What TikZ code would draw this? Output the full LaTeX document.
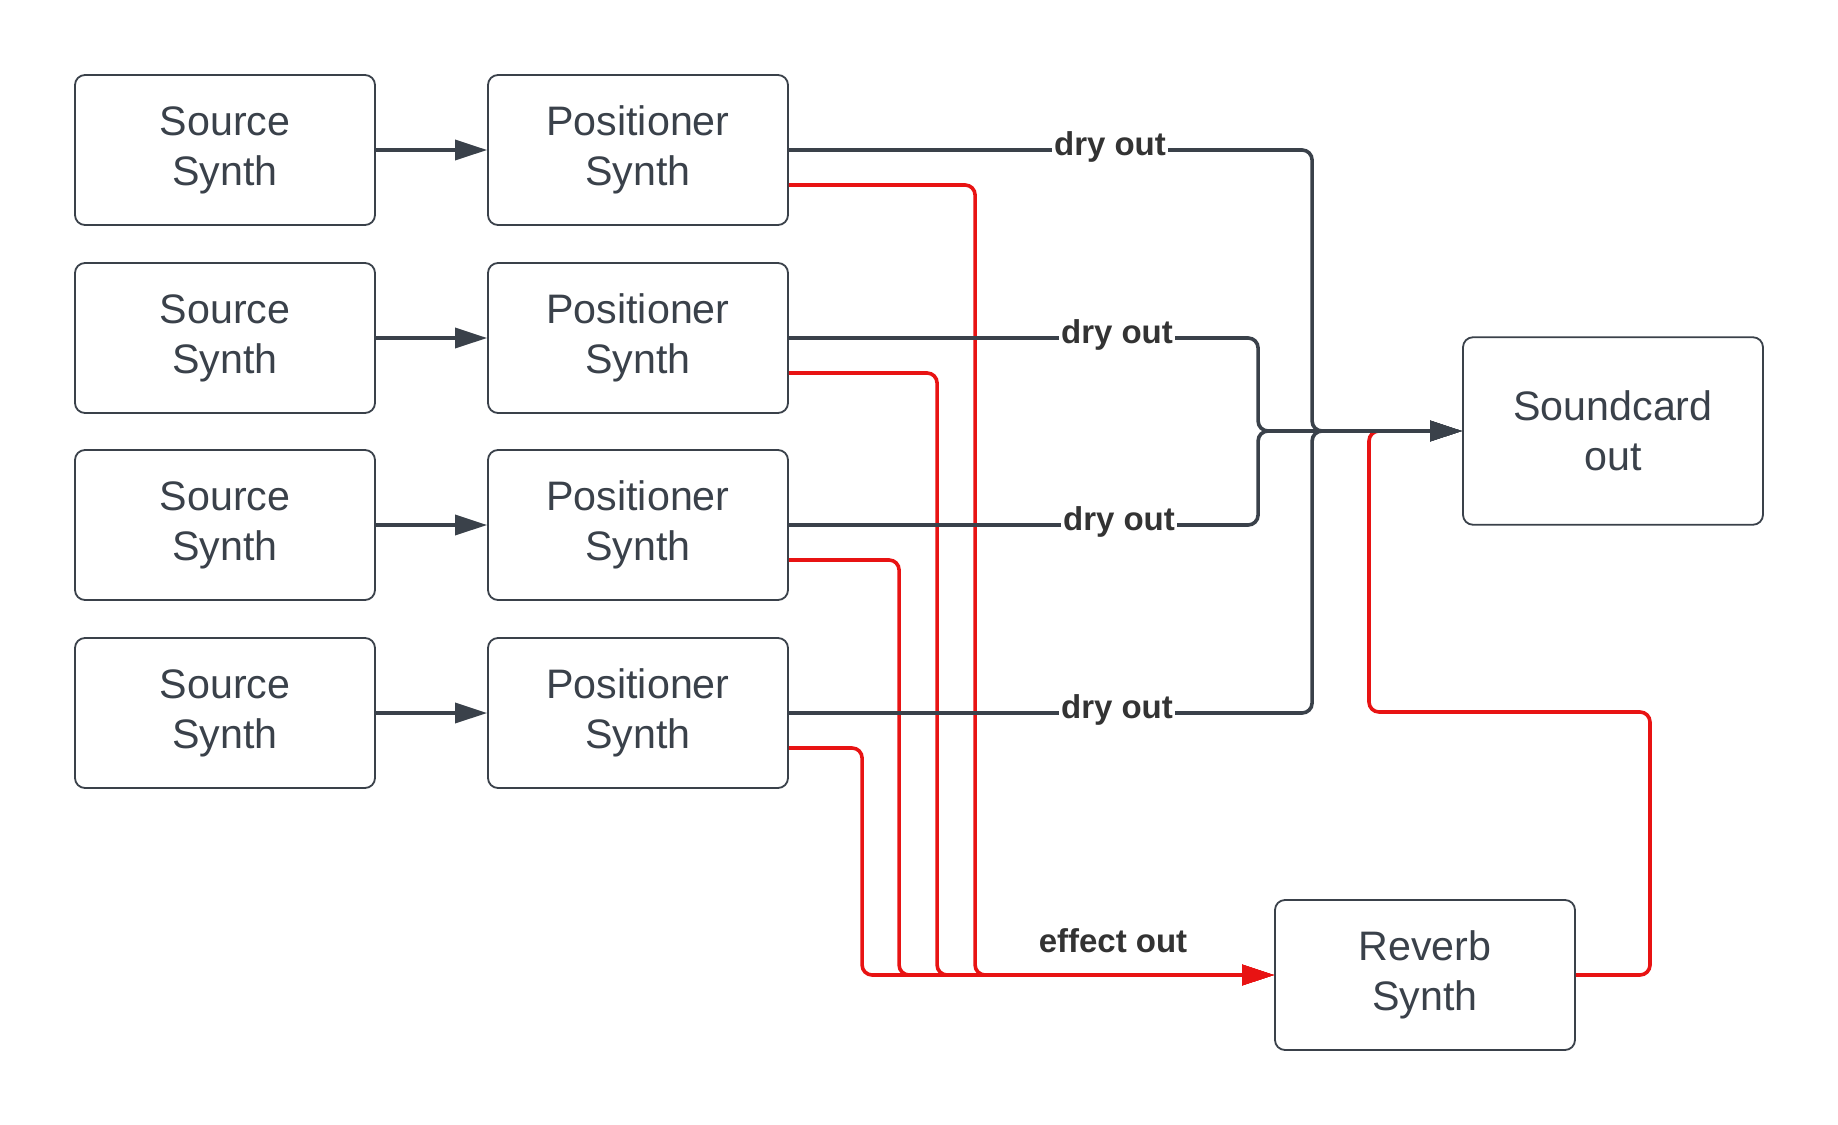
\documentclass[tikz,border=0pt]{standalone}
\usepackage{fontspec}
\setmainfont{Liberation Sans}
\usetikzlibrary{arrows.meta,calc}
\definecolor{ink}{HTML}{3A414A}
\definecolor{fx}{HTML}{E81313}
\definecolor{lab}{HTML}{333333}
\begin{document}
\begin{tikzpicture}[x=0.5pt,y=-0.5pt,
 box/.style={draw=ink, line width=0.9pt, rounded corners=5pt, minimum width=150pt, minimum height=75pt, align=center, text=ink, font=\fontsize{20.6}{25}\selectfont, inner sep=0pt},
 tall/.style={box, minimum height=93.75pt},
 tip/.style={-{Triangle[length=16pt,width=10pt]}},
 dry/.style={draw=ink, line width=1.8pt, rounded corners=5pt},
 wet/.style={draw=fx, line width=1.8pt, rounded corners=5pt},
 lbl/.style={fill=white, text=lab, font=\bfseries\fontsize{16.5}{20}\selectfont, inner sep=1pt}]
\fill[white] (0,0) rectangle (1838,1125);
\useasboundingbox (0,0) rectangle (1838,1125);

\node[box] (s1) at (225,150) {Source\\Synth};
\node[box] (s2) at (225,338) {Source\\Synth};
\node[box] (s3) at (225,525) {Source\\Synth};
\node[box] (s4) at (225,713) {Source\\Synth};
\node[box] (p1) at (638,150) {Positioner\\Synth};
\node[box] (p2) at (638,338) {Positioner\\Synth};
\node[box] (p3) at (638,525) {Positioner\\Synth};
\node[box] (p4) at (638,713) {Positioner\\Synth};
\node[tall] (sc) at (1613,431) {Soundcard\\out};
\node[box] (rv) at (1425,975) {Reverb\\Synth};

% effect sends
\draw[wet, shorten >=20pt] (rv.east) -| (1650,712) -| (1369,431) -- (sc.west);
\draw[wet,tip] ($(p4.east)+(0,35)$) -| ($(rv.west)+(-412,0)$) -- (rv.west);
\draw[wet,tip] ($(p3.east)+(0,35)$) -| ($(rv.west)+(-375,0)$) -- (rv.west);
\draw[wet,tip] ($(p2.east)+(0,35)$) -| ($(rv.west)+(-337,0)$) -- (rv.west);
\draw[wet,tip] ($(p1.east)+(0,35)$) -| ($(rv.west)+(-299,0)$) -- (rv.west);

% source to positioner
\draw[dry,tip] (s1) -- (p1);
\draw[dry,tip] (s2) -- (p2);
\draw[dry,tip] (s3) -- (p3);
\draw[dry,tip] (s4) -- (p4);

% dry outs
\draw[dry,tip] (p1.east) -| ($(sc.west)+(-150,0)$) -- (sc.west);
\draw[dry,tip] (p2.east) -| ($(sc.west)+(-204,0)$) -- (sc.west);
\draw[dry,tip] (p3.east) -| ($(sc.west)+(-204,0)$) -- (sc.west);
\draw[dry,tip] (p4.east) -| ($(sc.west)+(-150,0)$) -- (sc.west);

\node[lbl] (l1) at (1110,147) {dry out};
\node[lbl] (l2) at (1117,335) {dry out};
\node[lbl] (l3) at (1119,522) {dry out};
\node[lbl] (l4) at (1117,710) {dry out};
\node[lbl] (l5) at (1113,941) {effect out};
\end{tikzpicture}
\end{document}
